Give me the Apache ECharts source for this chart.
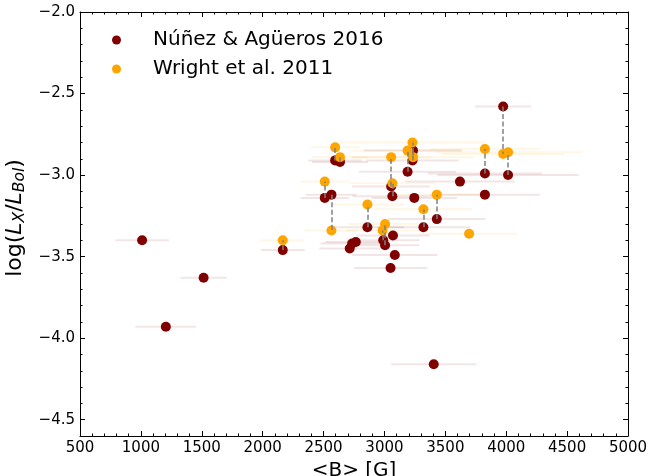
<!DOCTYPE html>
<html>
<head>
<meta charset="utf-8">
<script src="https://cdn.jsdelivr.net/npm/echarts@6/dist/echarts.min.js"></script>
<style>
  html, body { margin: 0; padding: 0; background: #fff; }
  #chart { width: 658px; height: 476px; }
</style>
</head>
<body>
<div id="chart"></div>
<script>
// Núñez & Agüeros 2016 (maroon)
const nunezB   = [1010, 1515, 1205, 2165, 2510, 2565, 2595, 2635, 2860, 2715, 2735, 2765, 2990, 3005, 3070, 3085,
                  3050, 3055, 3065, 3190, 3245, 3235, 3230, 3320, 3430, 3620, 3975, 3825, 4015, 3825, 3405];
const nunezL   = [-3.40, -3.63, -3.93, -3.46, -3.14, -3.12, -2.91, -2.92, -3.32, -3.45, -3.42, -3.41, -3.40, -3.43, -3.37, -3.49,
                  -3.57, -3.07, -3.13, -2.98, -3.14, -2.85, -2.91, -3.32, -3.27, -3.04, -2.58, -2.99, -3.00, -3.12, -4.16];
const nunezErr = [220, 190, 250, 180, 200, 210, 220, 230, 300, 250, 260, 250, 300, 280, 300, 350,
                  300, 320, 330, 400, 350, 400, 380, 380, 400, 450, 230, 470, 580, 450, 350];

// Wright et al. 2011 (orange)
const wrightB   = [2165, 2510, 2565, 2595, 2635, 2860, 3005, 2985, 3065, 3055, 3190, 3230, 3235, 3320, 3430, 3695, 3975, 3825, 4015];
const wrightL   = [-3.40, -3.04, -3.34, -2.83, -2.89, -3.18, -3.30, -3.34, -3.05, -2.89, -2.85, -2.80, -2.89, -3.21, -3.12, -3.36, -2.87, -2.84, -2.86];
const wrightErr = [180, 200, 220, 200, 230, 300, 300, 300, 350, 330, 450, 600, 500, 400, 400, 400, 500, 450, 600];

// same star in both catalogues: [nunez index, wright index]
const pairs = [[3, 0], [4, 1], [5, 2], [6, 3], [7, 4], [8, 5], [13, 6], [12, 7], [18, 8], [17, 9],
               [19, 10], [22, 11], [21, 12], [23, 13], [24, 14], [26, 16], [27, 17], [28, 18]];

const xTicks = [500, 1000, 1500, 2000, 2500, 3000, 3500, 4000, 4500, 5000];
const yTicks = [-4.5, -4.0, -3.5, -3.0, -2.5, -2.0];

const xMinor = [];
for (let v = 500; v <= 5000; v += 100) xMinor.push(v);
const yMinor = [];
for (let k = -46; k <= -20; k++) yMinor.push(k / 10);

const MAROON = '#800000';
const ORANGE = '#ffa500';
const FONT = 'DejaVu Sans';

const zip = (xs, ys, es) => xs.map((x, i) => es ? [x, ys[i], es[i]] : [x, ys[i]]);

function errBar(color) {
  return function (params, api) {
    const y = api.value(1);
    const p1 = api.coord([api.value(0) - api.value(2), y]);
    const p2 = api.coord([api.value(0) + api.value(2), y]);
    return {
      type: 'line',
      shape: { x1: p1[0], y1: p1[1], x2: p2[0], y2: p2[1] },
      style: { stroke: color, lineWidth: 2 }
    };
  };
}

function fmtY(v) {
  return v.toFixed(1).replace('-', '\u2212');
}

function axisBase(extra) {
  return Object.assign({
    type: 'value',
    splitLine: { show: false },
    axisLine: { show: true, onZero: false, lineStyle: { color: '#000', width: 1 } }
  }, extra);
}

const chart = echarts.init(document.getElementById('chart'), null, { renderer: 'canvas' });

const option = {
  animation: false,
  backgroundColor: '#fff',
  grid: { left: 80, right: 30, top: 12, bottom: 40, outerBoundsMode: 'none', containLabel: false },
  legend: {
    left: 107,
    top: 25,
    orient: 'vertical',
    itemWidth: 9,
    itemHeight: 9,
    itemGap: 9,
    icon: 'circle',
    textStyle: { fontFamily: FONT, fontSize: 20, color: '#000', padding: [0, 0, 0, 27] },
    data: ['Núñez & Agüeros 2016', 'Wright et al. 2011']
  },
  xAxis: [
    axisBase({
      min: 500, max: 5000, position: 'bottom',
      name: '<B> [G]', nameLocation: 'middle', nameGap: 22,
      nameTextStyle: { fontFamily: FONT, fontSize: 20, color: '#000' },
      axisTick: { show: true, inside: true, length: 5, customValues: xTicks, lineStyle: { color: '#000' } },
      axisLabel: { customValues: xTicks, fontFamily: FONT, fontSize: 15, color: '#000', margin: 5, formatter: v => String(v) }
    }),
    axisBase({
      min: 500, max: 5000, position: 'top',
      axisTick: { show: true, inside: true, length: 5, customValues: xTicks, lineStyle: { color: '#000' } },
      axisLabel: { show: false }
    }),
    axisBase({
      min: 500, max: 5000, position: 'bottom',
      axisLine: { show: false },
      axisTick: { show: true, inside: true, length: 2.5, customValues: xMinor, lineStyle: { color: '#000' } },
      axisLabel: { show: false }
    }),
    axisBase({
      min: 500, max: 5000, position: 'top',
      axisLine: { show: false },
      axisTick: { show: true, inside: true, length: 2.5, customValues: xMinor, lineStyle: { color: '#000' } },
      axisLabel: { show: false }
    })
  ],
  yAxis: [
    axisBase({
      min: -4.6, max: -2.0, position: 'left',
      name: 'log({i|L}{s|X}/{i|L}{s|Bol})', nameLocation: 'middle', nameGap: 42,
      nameTextStyle: {
        fontFamily: FONT, fontSize: 22, color: '#000', padding: [0, 0, 0, 12],
        rich: {
          i: { fontFamily: FONT, fontSize: 22, fontStyle: 'italic', color: '#000' },
          s: { fontFamily: FONT, fontSize: 15.5, fontStyle: 'italic', color: '#000', verticalAlign: 'bottom', padding: [9, 0, 0, 0] }
        }
      },
      axisTick: { show: true, inside: true, length: 5, customValues: yTicks, lineStyle: { color: '#000' } },
      axisLabel: { customValues: yTicks, fontFamily: FONT, fontSize: 15, color: '#000', margin: 5, formatter: fmtY }
    }),
    axisBase({
      min: -4.6, max: -2.0, position: 'right',
      axisTick: { show: true, inside: true, length: 5, customValues: yTicks, lineStyle: { color: '#000' } },
      axisLabel: { show: false }
    }),
    axisBase({
      min: -4.6, max: -2.0, position: 'left',
      axisLine: { show: false },
      axisTick: { show: true, inside: true, length: 2.5, customValues: yMinor, lineStyle: { color: '#000' } },
      axisLabel: { show: false }
    }),
    axisBase({
      min: -4.6, max: -2.0, position: 'right',
      axisLine: { show: false },
      axisTick: { show: true, inside: true, length: 2.5, customValues: yMinor, lineStyle: { color: '#000' } },
      axisLabel: { show: false }
    })
  ],
  series: [
    {
      type: 'custom', name: 'nunezErr', z: 1,
      renderItem: errBar('rgba(128,0,0,0.1)'),
      encode: { x: 0, y: 1 },
      data: zip(nunezB, nunezL, nunezErr)
    },
    {
      type: 'custom', name: 'wrightErr', z: 1,
      renderItem: errBar('rgba(255,165,0,0.1)'),
      encode: { x: 0, y: 1 },
      data: zip(wrightB, wrightL, wrightErr)
    },
    {
      type: 'scatter', name: 'Núñez & Agüeros 2016', z: 3,
      symbolSize: 10,
      itemStyle: { color: MAROON, opacity: 1 },
      data: zip(nunezB, nunezL)
    },
    {
      type: 'scatter', name: 'Wright et al. 2011', z: 4,
      symbolSize: 10,
      itemStyle: { color: ORANGE, opacity: 1 },
      data: zip(wrightB, wrightL)
    },
    {
      type: 'lines', coordinateSystem: 'cartesian2d', z: 5,
      silent: true,
      lineStyle: { color: '#808080', width: 1.5, type: [5, 2.5], opacity: 1 },
      data: pairs.map(p => ({
        coords: [[nunezB[p[0]], nunezL[p[0]]], [wrightB[p[1]], wrightL[p[1]]]]
      }))
    }
  ]
};

chart.setOption(option);
</script>
</body>
</html>
